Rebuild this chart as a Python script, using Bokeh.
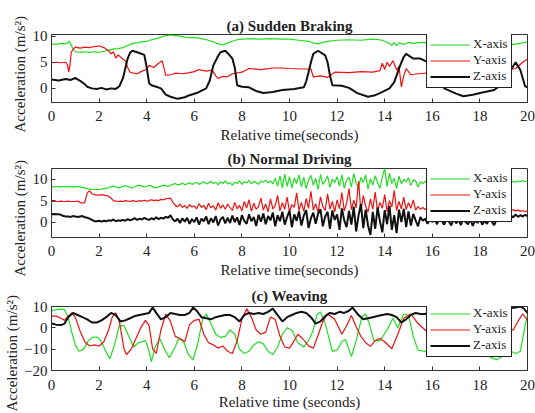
from bokeh.plotting import figure
from bokeh.layouts import column
from bokeh.models import Legend, LegendItem, FixedTicker, Title
from bokeh.embed import file_html
from bokeh.resources import INLINE

# ---------------- (a) Sudden Braking ----------------
a_x_t = [0.0, 0.2, 0.4, 0.6, 0.75, 0.9, 1.0, 1.2, 1.4, 1.6, 1.8, 2.0, 2.2, 2.4, 2.6, 2.8, 3.0, 3.2, 3.4,
         3.6, 3.8, 4.0, 4.2, 4.4, 4.6, 4.8, 5.0, 5.2, 5.4, 5.6, 5.8, 6.0, 6.2, 6.4, 6.6, 6.8, 7.0, 7.2,
         7.4, 7.6, 7.8, 8.0, 8.4, 8.8, 9.2, 9.6, 10.0, 10.4, 10.8, 11.0, 11.2, 11.4, 11.6, 12.0, 12.5,
         13.0, 13.5, 13.8, 14.0, 14.2, 14.3, 14.4, 14.5, 14.6, 14.8, 15.0, 15.2, 15.5, 16.0, 17.0, 18.0,
         19.0, 19.4, 19.7, 20.0]
a_x_v = [8.5, 8.4, 8.6, 8.5, 9.0, 7.6, 7.0, 6.9, 7.0, 6.9, 7.0, 6.9, 7.1, 7.3, 7.5, 7.6, 7.8, 8.2, 8.6,
         8.7, 8.9, 9.0, 9.3, 9.5, 9.8, 10.1, 10.2, 10.1, 10.0, 9.8, 9.7, 9.7, 9.6, 9.4, 9.2, 8.9, 8.5, 8.3,
         8.7, 9.0, 9.3, 9.4, 9.5, 9.4, 9.5, 9.4, 9.4, 9.2, 9.0, 8.7, 8.5, 8.8, 9.0, 9.2, 9.3,
         9.2, 9.4, 9.3, 9.0, 8.6, 8.2, 8.8, 8.1, 8.7, 8.4, 8.8, 8.6, 8.8, 8.7, 8.8, 8.8,
         8.6, 8.4, 8.6, 8.9]

a_y_t = [0.0, 0.2, 0.4, 0.6, 0.68, 0.72, 0.78, 0.83, 0.9, 1.0, 1.2, 1.4, 1.6, 1.8, 2.0, 2.2, 2.4, 2.5,
         2.6, 2.7, 2.8, 2.9, 3.0, 3.1, 3.2, 3.3, 3.45, 3.6, 3.8, 4.0, 4.1, 4.3, 4.5, 4.65, 4.8, 5.0, 5.2,
         5.5, 5.8, 6.0, 6.2, 6.5, 6.75, 6.9, 7.0, 7.2, 7.4, 7.6, 8.0, 8.3, 8.8, 9.3, 9.7, 10.0, 10.5,
         10.9, 11.0, 11.3, 11.6, 11.9, 12.5, 13.0, 13.5, 13.8, 13.9, 14.0, 14.1, 14.2, 14.35, 14.5,
         14.6, 14.7, 14.8, 14.9, 15.1, 15.4, 16.0, 17.0, 18.0, 19.0, 19.5, 19.8, 20.0]
a_y_v = [4.9, 5.0, 4.9, 5.0, 4.4, 3.1, 4.6, 6.9, 7.4, 7.9, 7.7, 7.9, 7.8, 8.0, 8.1, 7.8, 7.2, 6.6,
         7.0, 5.8, 6.4, 6.0, 5.6, 5.3, 4.0, 3.1, 2.9, 2.8, 3.3, 3.6, 4.4, 4.0, 4.8, 5.3, 2.5, 2.6, 2.9,
         2.8, 3.0, 3.2, 3.6, 3.3, 3.5, 2.4, 1.9, 2.3, 2.2, 2.8, 3.1, 3.8, 3.6, 3.9, 3.9, 3.8, 3.7,
         3.7, 2.2, 2.4, 2.1, 3.1, 3.0, 3.2, 3.1, 3.4, 4.8, 3.6, 5.0, 4.2, 5.3, 3.5,
         4.2, 0.3, 2.4, 3.8, 2.6, 2.8, 3.0, 3.1, 3.2, 3.4, 3.8, 5.0, 5.6]

a_z_t = [0.0, 0.3, 0.6, 0.8, 1.0, 1.1, 1.25, 1.4, 1.5, 1.7, 1.9, 2.1, 2.3, 2.5, 2.7, 2.85, 3.0, 3.1,
         3.2, 3.3, 3.4, 3.6, 3.9, 4.0, 4.1, 4.2, 4.4, 4.6, 4.8, 5.0, 5.3, 5.6, 5.8, 6.1, 6.5, 6.65,
         6.8, 7.0, 7.1, 7.3, 7.45, 7.6, 7.7, 7.8, 8.0, 8.3, 8.6, 8.9, 9.3, 9.7, 10.2, 10.6, 10.7, 10.8,
         10.9, 11.0, 11.2, 11.5, 11.6, 11.7, 11.8, 12.2, 12.5, 12.85, 13.3, 13.6, 13.8, 14.2, 14.4,
         14.65, 14.8, 14.9, 15.2, 15.5, 15.8, 16.2, 16.5, 17.0, 17.3, 17.7, 18.1, 18.6, 19.0, 19.3,
         19.5, 19.7, 19.9, 20.0]
a_z_v = [1.7, 1.5, 1.8, 1.6, 2.0, 1.7, 1.3, 0.8, 0.3, 0.0, -0.1, 0.1, -0.2, 0.0, -0.1, 0.4, 1.9, 3.8,
         5.7, 6.8, 7.2, 6.9, 6.4, 4.0, 1.0, 0.6, 0.3, 0.0, -1.2, -1.6, -2.0, -1.7, -1.3, -0.9, 0.0, 1.5,
         4.4, 6.2, 6.9, 7.2, 6.5, 5.7, 4.0, 0.6, 0.3, 0.2, -0.5, -0.9, -0.7, -0.3, -0.1, 0.2, 1.3, 3.1,
         5.0, 6.6, 7.2, 6.3, 5.0, 2.5, 0.6, 0.5, 0.1, -0.9, -1.6, -1.3, -0.9, 0.0, 1.2,
         4.4, 6.0, 6.6, 5.7, 5.7, 5.0, 3.0, 0.0, -1.0, -1.5, -1.2, -0.8, -0.3, 1.0, 3.5,
         5.0, 3.5, 0.4, 0.2]

# ---------------- (b) Normal Driving (0.1 s steps) ----------------
b_t = [i / 10 for i in range(201)]
b_x = [8.2, 8.2, 8.3, 8.2, 8.2, 8.3, 8.2, 8.2, 8.3, 8.2, 8.2, 8.3, 8.2, 8.1, 8.0,
       7.8, 7.7, 7.6, 7.6, 7.6, 7.6, 7.7, 7.8, 7.9, 8.0, 8.2, 8.4, 8.2, 8.0, 8.1,
       8.3, 8.5, 8.3, 8.1, 8.0, 8.3, 8.5, 8.6, 8.4, 8.2, 8.3, 8.6, 8.4, 8.1, 8.0,
       8.2, 8.4, 8.6, 8.5, 8.3, 8.6, 8.8, 9.0, 8.7, 8.8, 9.1, 8.7, 8.9, 9.2, 8.8,
       9.0, 9.3, 8.8, 9.1, 9.4, 8.9, 9.2, 9.5, 9.0, 9.3, 8.7, 9.4, 9.0, 9.6, 8.9,
       9.2, 8.6, 9.3, 9.0, 9.6, 8.8, 9.4, 9.1, 9.7, 8.9, 9.5, 9.2, 8.8, 9.6, 9.3,
       9.8, 9.1, 9.6, 8.9, 10.2, 8.4, 10.8, 7.9, 11.2, 8.3, 10.6, 8.0, 10.3, 9.0, 11.0,
       8.2, 10.4, 7.8, 9.8, 10.9, 8.6, 10.2, 7.6, 11.1, 8.8, 9.6, 10.8, 8.1, 10.0, 9.2,
       10.6, 8.4, 11.0, 7.9, 9.8, 10.5, 8.2, 11.3, 9.0, 8.0, 10.4, 9.3, 11.0, 7.7, 10.1,
       8.6, 10.8, 9.2, 7.9, 10.5, 12.6, 8.3, 11.4, 9.0, 10.2, 7.8, 10.7, 8.9, 10.0, 9.4,
       10.3, 8.5, 9.9, 9.6, 8.2, 9.4, 9.0, 9.5, 9.2, 9.6, 9.1, 9.4, 9.3, 9.5, 9.2,
       9.4, 9.2, 9.5, 9.3, 9.6, 9.2, 9.4, 9.5, 9.3, 9.6, 9.2, 9.4, 9.5, 9.3, 9.4,
       9.5, 9.3, 9.6, 9.2, 9.4, 9.5, 9.3, 9.6, 9.4, 9.2, 9.5, 9.3, 9.6, 9.4, 9.5,
       9.3, 9.6, 9.4, 9.7, 9.4, 9.6]
b_y = [4.8, 4.9, 4.8, 4.8, 4.9, 4.8, 4.8, 4.9, 4.8, 4.8, 4.8, 4.9, 4.6, 4.4, 4.6,
       6.8, 7.3, 6.6, 6.4, 6.3, 6.3, 6.4, 6.3, 6.2, 6.0, 5.6, 5.0, 4.9, 4.8, 4.9,
       4.8, 5.0, 4.9, 4.8, 5.0, 4.9, 4.8, 5.0, 4.9, 5.1, 4.9, 5.0, 5.2, 5.0, 5.1,
       5.0, 5.3, 5.2, 5.4, 5.5, 5.6, 4.6, 3.9, 3.6, 4.2, 3.4, 3.9, 3.2, 4.1, 3.5,
       3.8, 3.1, 4.3, 3.4, 3.9, 2.9, 4.4, 3.3, 3.8, 2.8, 4.5, 3.2, 4.0, 3.0, 4.2,
       3.4, 2.7, 4.6, 3.1, 3.9, 2.6, 4.8, 3.3, 5.2, 2.5, 4.4, 3.0, 3.6, 5.6, 2.8,
       4.2, 2.4, 5.4, 3.1, 3.8, 6.2, 2.6, 4.5, 3.0, 5.8, 2.3, 4.1, 3.4, 6.8, 2.7,
       4.6, 2.5, 5.5, 3.2, 7.2, 2.8, 4.3, 2.2, 5.9, 3.6, 2.7, 6.6, 3.0, 4.8, 2.4,
       5.2, 3.1, 6.9, 2.6, 4.4, 7.8, 2.9, 5.1, 3.3, 9.6, 2.5, 6.2, 3.7, 2.3, 5.4,
       3.0, 7.0, 2.6, 4.6, 3.2, 6.4, 2.4, 5.0, 3.5, 7.4, 2.7, 4.8, 3.1, 5.8, 2.9,
       4.5, 3.2, 5.2, 2.8, 3.6, 3.0, 3.4, 2.9, 3.5, 3.1, 3.3, 2.8, 3.4, 3.0, 3.2,
       3.1, 3.3, 2.9, 3.2, 3.0, 3.4, 2.8, 3.1, 3.2, 2.9, 3.0, 3.3, 2.9, 3.1, 3.0,
       3.2, 2.9, 3.0, 3.1, 2.8, 3.0, 3.2, 2.9, 3.0, 2.8, 3.1, 2.9, 3.0, 2.7, 2.9,
       2.6, 2.8, 2.5, 2.7, 2.4, 2.6]
b_z = [1.8, 1.9, 1.8, 1.8, 1.7, 1.4, 1.3, 1.3, 1.2, 1.4, 1.3, 1.2, 1.3, 1.4, 1.1,
       1.0, 0.8, 0.5, 0.2, 0.2, 0.3, 0.1, 0.3, 0.2, 0.4, 0.3, 0.6, 0.2, 0.4, 0.3,
       0.5, 0.3, 0.7, 0.4, 0.6, 0.9, 0.5, 0.8, 0.6, 1.0, 0.7, 0.5, 0.9, 0.6, 1.1,
       0.7, 1.0, 0.8, 1.2, 1.0, 1.6, 0.6, 0.2, 0.8, -0.2, 0.9, 0.1, 1.0, -0.4, 0.7,
       0.0, 1.1, -0.6, 0.8, 0.2, 1.3, -0.5, 0.9, -0.1, 1.4, -0.8, 0.6, 1.2, -0.3, 1.0,
       -0.2, 1.5, 0.0, 1.1, -0.7, 1.6, 0.3, -0.4, 1.8, 0.2, 1.2, -0.9, 1.7, 0.1, 2.0,
       -0.5, 1.4, 0.4, 2.2, -1.0, 1.6, 0.2, 2.4, -0.6, 1.2, 2.6, -1.2, 1.8, 0.3, 2.5,
       -0.8, 1.5, 2.8, -1.4, 0.9, 2.2, -0.4, 1.9, 3.0, -1.0, 1.3, 2.4, -1.6, 2.7, 0.5,
       1.8, -1.8, 3.2, 0.4, -1.2, 2.6, -0.6, 3.6, -2.2, 1.5, 4.2, -1.4, 2.9, -0.8, -3.0,
       2.4, -1.6, 3.4, 0.2, -2.4, 2.8, -0.5, 3.8, -1.8, 1.6, -2.6, 2.9, 0.0, 3.1, -1.2,
       2.5, -0.8, 1.9, 0.4, -1.0, 1.2, 0.3, 0.8, -0.4, 0.9, 0.0, 0.6, -0.5, 1.0, 0.2,
       -0.6, 0.7, 0.1, -0.8, 0.9, -0.3, 0.5, -0.7, 0.8, 0.0, -0.5, 0.6, -0.9, 0.4, -0.2,
       0.7, -0.6, 0.3, -0.4, 0.9, 0.1, -0.7, 0.6, 0.2, 1.0, 0.4, 1.3, 0.8, 1.5, 1.1,
       1.8, 1.2, 1.6, 1.3, 1.7, 1.4]

# ---------------- (c) Weaving ----------------
c_x_t = [0.0, 0.2, 0.4, 0.55, 0.7, 0.85, 1.0, 1.15, 1.35, 1.55, 1.75, 1.95, 2.1, 2.3, 2.45, 2.65, 2.85,
         3.05, 3.25, 3.45, 3.65, 3.95, 4.1, 4.2, 4.35, 4.55, 4.75, 4.95, 5.15, 5.35, 5.55, 5.75, 5.95,
         6.15, 6.35, 6.5, 6.7, 6.9, 7.1, 7.3, 7.5, 7.7, 7.9, 8.1, 8.3, 8.5, 8.7, 8.9, 9.1, 9.3, 9.5,
         9.7, 9.9, 10.1, 10.35, 10.6, 10.85, 11.0, 11.15, 11.3, 11.5, 11.8, 12.0, 12.2, 12.35, 12.6,
         12.8, 13.05, 13.2, 13.35, 13.55, 13.8, 14.1, 14.35, 14.55, 14.8, 15.0, 15.2, 15.4, 15.7,
         16.0, 16.5, 17.0, 17.5, 18.0, 18.4, 18.7, 19.0, 19.3, 19.5, 19.7, 19.9, 20.0]
c_x_v = [8.0, 8.5, 8.8, 8.5, 5.0, -2.0, -8.0, -11.0, -10.0, -6.0, -4.3, -4.5, -6.5, -11.5, -14.5, -8.0, 1.0,
         1.0, -4.0, -9.0, -7.0, -6.0, -11.0, -16.0, -9.0, -5.0, -10.0, -14.0, -10.0, -5.0, -6.5, -12.5, -15.0,
         -7.0, 4.0, 6.5, 2.0, -3.0, -4.5, -4.0, -1.0, -3.0, -10.0, -12.0, -11.0, -8.0, -6.5, -7.5, -11.0, -12.5, -9.0,
         -3.0, 0.0, -1.0, -7.0, -9.0, -5.0, -1.0, 6.0, 7.5, 2.0, -11.0, -10.5, -6.5, -5.5, -13.5,
         -6.0, 5.5, 6.5, 2.0, -6.0, -6.0, -1.0, 4.5, 0.0, 6.5, 6.0, -4.0, -10.5, -11.0,
         -9.0, -6.0, -10.0, -8.0, -11.0, -13.5, -15.0, -13.0, -11.0, -12.0, -11.0, 1.0, 6.0]

c_y_t = [0.0, 0.2, 0.4, 0.55, 0.7, 0.85, 1.0, 1.2, 1.4, 1.6, 1.8, 2.0, 2.2, 2.4, 2.55, 2.7, 2.85, 3.05,
         3.15, 3.35, 3.55, 3.75, 3.95, 4.1, 4.25, 4.4, 4.6, 4.8, 5.0, 5.2, 5.4, 5.6, 5.8, 6.0, 6.2, 6.4,
         6.6, 6.8, 7.0, 7.2, 7.4, 7.6, 7.8, 8.0, 8.2, 8.4, 8.6, 8.8, 9.0, 9.2, 9.4, 9.6, 9.8, 10.0,
         10.2, 10.35, 10.55, 10.8, 11.0, 11.2, 11.4, 11.6, 11.9, 12.2, 12.4, 12.6, 12.8, 13.0, 13.2,
         13.4, 13.6, 13.8, 14.0, 14.3, 14.55, 14.8, 15.1, 15.4, 15.7, 16.0, 16.5, 17.0, 17.5, 18.0,
         18.5, 19.0, 19.4, 19.6, 19.8, 20.0]
c_y_v = [5.5, 5.5, 4.5, 3.5, 5.5, 7.0, 5.0, -1.5, -6.5, -8.5, -8.0, -8.5, -6.5, -1.0, 5.0, 7.0, 3.0, -10.0,
         -12.5, -10.0, -5.0, 0.0, 3.5, 1.0, -10.0, -12.0, -1.0, 6.5, 3.0, -4.0, -5.0, -6.5, 1.5, 3.5, 4.0, -3.0,
         -7.0, -8.0, -9.5, -8.5, -11.0, -12.0, -6.0, 4.0, 9.0, 5.0, -1.0, -3.0, -2.0, 5.0, 4.0, -4.0, -9.0, -9.5,
         -6.0, -3.0, -5.0, -8.5, -9.5, -3.5, 3.0, 6.5, 4.0, -3.0, 1.0, 5.8, 0.5, -4.0, -7.0,
         -8.7, -6.0, -5.0, -6.5, -9.8, -3.0, 4.5, 6.5, 2.0, -1.0, -4.0, -8.0, -5.0, -9.0, -6.0,
         -3.0, -1.0, -1.0, 3.0, 6.6, 3.5]

c_z_t = [0.0, 0.2, 0.4, 0.55, 0.7, 0.9, 1.1, 1.3, 1.5, 1.7, 1.9, 2.1, 2.3, 2.5, 2.7, 2.9, 3.1, 3.3, 3.5,
         3.7, 3.9, 4.1, 4.25, 4.4, 4.6, 4.8, 5.0, 5.2, 5.4, 5.6, 5.8, 5.95, 6.1, 6.3, 6.5, 6.7, 6.9, 7.1,
         7.3, 7.5, 7.7, 7.9, 8.1, 8.3, 8.5, 8.7, 8.9, 9.1, 9.3, 9.5, 9.7, 9.9, 10.1, 10.3, 10.5, 10.7,
         10.9, 11.1, 11.3, 11.5, 11.7, 11.9, 12.1, 12.3, 12.5, 12.65, 12.9, 13.1, 13.3, 13.5, 13.7, 13.9,
         14.1, 14.3, 14.5, 14.7, 14.9, 15.1, 15.3, 15.5, 15.7, 16.0, 16.3, 16.6, 17.0, 17.3, 17.5, 17.7,
         18.0, 18.3, 18.6, 19.0, 19.3, 19.5, 19.7, 19.85, 20.0]
c_z_v = [2.0, 1.5, 1.3, 2.0, 5.0, 7.0, 6.0, 5.0, 4.0, 2.5, 2.5, 3.5, 5.0, 7.0, 6.0, 3.0, 3.5, 4.5, 5.5,
         6.0, 6.5, 7.0, 9.5, 7.0, 4.0, 5.0, 7.0, 6.5, 6.0, 6.0, 7.0, 9.5, 8.0, 5.0, 4.5, 4.0, 5.0, 5.5,
         6.0, 6.0, 5.0, 3.0, 6.0, 7.0, 6.5, 7.0, 6.5, 7.5, 9.0, 6.0, 3.0, 5.0, 6.0, 7.0, 7.5, 7.0,
         5.0, 2.0, 3.0, 5.5, 7.0, 6.5, 7.5, 7.0, 8.0, 9.5, 6.0, 4.0, 4.5, 5.0, 5.5, 6.0,
         6.5, 6.0, 5.0, 2.5, 4.0, 6.0, 7.0, 6.5, 6.5, 8.0, 9.0, 8.5, 9.0, 8.5, 9.8, 8.8,
         9.0, 8.6, 9.2, 9.0, 9.3, 9.5, 10.0, 9.0, 7.0]

x_ticks = [0, 2, 4, 6, 8, 10, 12, 14, 16, 18, 20]
series_names = ["X-axis", "Y-axis", "Z-axis"]
series_colors = ["#22dd22", "#ee1111", "#111111"]
y_label = "Acceleration (m/s\u00b2)"

FONT = "Liberation Serif"
TXT = "#222222"


def make_panel(title, xlabel, yr, yticks, height, top, bottom, data, tick_sd, lab_sd, leg_y,
               title_sd, ylab_off):
    p = figure(width=535, height=height, x_range=(0, 20), y_range=yr,
               output_backend="svg", toolbar_location=None,
               min_border_left=50, min_border_right=8,
               min_border_top=top, min_border_bottom=bottom, title=title)
    p.title.align = "center"
    p.title.text_font = FONT
    p.title.text_font_size = "15px"
    p.title.text_font_style = "bold"
    p.title.text_color = TXT
    p.title.standoff = title_sd
    p.xgrid.visible = False
    p.ygrid.visible = False
    p.outline_line_color = "#333333"
    p.outline_line_alpha = 1
    p.outline_line_width = 1
    p.background_fill_color = "white"
    p.xaxis.ticker = FixedTicker(ticks=x_ticks)
    p.yaxis.ticker = FixedTicker(ticks=yticks)
    p.xaxis.axis_label = xlabel
    for ax in (p.xaxis[0], p.yaxis[0]):
        ax.major_tick_in = 4
        ax.major_tick_out = 0
        ax.minor_tick_line_color = None
        ax.axis_line_color = "#333333"
        ax.major_tick_line_color = "#333333"
        ax.major_label_text_font = FONT
        ax.major_label_text_font_size = "15px"
        ax.major_label_text_color = TXT
        ax.axis_label_text_font = FONT
        ax.axis_label_text_font_style = "normal"
        ax.axis_label_text_color = TXT
    p.xaxis.axis_label_text_font_size = "15px"
    p.xaxis.major_label_standoff = tick_sd
    p.xaxis.axis_label_standoff = lab_sd
    p.yaxis.major_label_standoff = 4

    # y-axis label as a left-side title, anchored at its start so it stays inside the canvas
    ylab = Title(text=y_label, align="left", offset=ylab_off, standoff=3,
                 text_font=FONT, text_font_size="15px", text_font_style="normal",
                 text_color=TXT)
    p.add_layout(ylab, "left")

    items = []
    for (tt, vv), name, col in zip(data, series_names, series_colors):
        lw = 2.0 if name == "Z-axis" else 1.2
        r = p.line(tt, vv, line_color=col, line_width=lw)
        items.append(LegendItem(label=name, renderers=[r]))
    leg = Legend(items=items, location=(375, leg_y))
    leg.label_text_font = FONT
    leg.label_text_font_size = "13px"
    leg.label_text_color = TXT
    leg.glyph_width = 40
    leg.glyph_height = 15
    leg.label_height = 15
    leg.label_width = 30
    leg.spacing = 0
    leg.padding = 3
    leg.margin = 0
    leg.label_standoff = 3
    leg.border_line_color = "#222222"
    leg.border_line_alpha = 1
    leg.border_line_width = 1
    leg.background_fill_color = "white"
    leg.background_fill_alpha = 1
    p.add_layout(leg, "center")
    return p


pa = make_panel("(a) Sudden Braking", "Relative time(seconds)", (-2.7, 10.3), [0, 5, 10],
                146, 34, 44, [(a_x_t, a_x_v), (a_y_t, a_y_v), (a_z_t, a_z_v)], 8, 3, 14, 2, -30)
pb = make_panel("(b) Normal Driving", "Relative time(seconds)", (-3.6, 12.5), [0, 5, 10],
                137, 20, 46, [(b_t, b_x), (b_t, b_y), (b_t, b_z)], 8, 3, 15, 4, -39)
pc = make_panel("(c) Weaving", "Relative time (seconds)", (-20, 10), [-20, -10, 0, 10],
                130, 20, 43, [(c_x_t, c_x_v), (c_y_t, c_y_v), (c_z_t, c_z_v)], 9, 1, 13, 5, -41)

layout = column(pa, pb, pc, spacing=0)
open("out.html", "w").write(file_html(layout, INLINE))
